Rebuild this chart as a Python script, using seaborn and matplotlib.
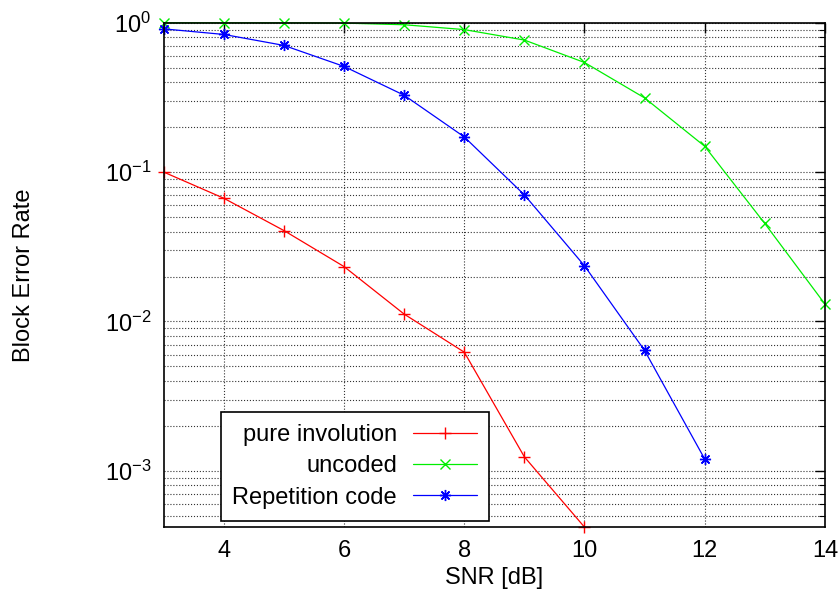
import numpy as np
import pandas as pd
import matplotlib
matplotlib.use("Agg")
import matplotlib.pyplot as plt
import seaborn as sns
from matplotlib.ticker import LogLocator, NullFormatter

# values
snr_inv = [3, 4, 5, 6, 7, 8, 9, 10]
bler_inv = [0.1, 0.0668, 0.0406, 0.0233, 0.0112, 0.00623, 0.00124, 0.00042]

snr_unc = [3, 4, 5, 6, 7, 8, 9, 10, 11, 12, 13, 14]
bler_unc = [1.0, 1.0, 1.0, 0.995, 0.97, 0.90, 0.766, 0.542, 0.314, 0.149, 0.0453, 0.0131]

snr_rep = [3, 4, 5, 6, 7, 8, 9, 10, 11, 12]
bler_rep = [0.91, 0.835, 0.705, 0.51, 0.327, 0.172, 0.0704, 0.0236, 0.0064, 0.0012]

sns.set_style("white")
plt.rcParams['font.family'] = ['Liberation Sans', 'DejaVu Sans']
plt.rcParams['text.color'] = 'black'
plt.rcParams['axes.labelcolor'] = 'black'
fs = 17

fig = plt.figure(figsize=(8.4, 5.99), dpi=100)
ax = fig.add_axes([0.195, 0.120, 0.787, 0.842])

asterisk = (8, 2, 0)
series = [
    (snr_inv, bler_inv, "#ff0000", "+", 9, "pure involution"),
    (snr_unc, bler_unc, "#00ee00", "x", 7, "uncoded"),
    (snr_rep, bler_rep, "#0000ff", asterisk, 8, "Repetition code"),
]
for xs, ys, col, mk, ms, lab in series:
    sns.lineplot(x=xs, y=ys, ax=ax, color=col, lw=0.9, marker=mk, markersize=ms,
                 markeredgewidth=1.0, markeredgecolor=col, markerfacecolor=col,
                 label=lab, clip_on=False)

ax.set_yscale("log")
ax.set_xlim(3, 14)
ax.set_ylim(4.2e-4, 1.0)
ax.set_xticks([4, 6, 8, 10, 12, 14])
ax.yaxis.set_major_locator(LogLocator(base=10))
ax.yaxis.set_minor_locator(LogLocator(base=10, subs=np.arange(2, 10)))
ax.yaxis.set_minor_formatter(NullFormatter())

ax.tick_params(which="both", direction="in", top=True, right=True, labelsize=fs, colors="black")
ax.tick_params(which="major", length=7, width=1, pad=9)
ax.tick_params(which="minor", length=4, width=0.8)

ax.grid(True, which="major", axis="both", color="#333333", linestyle=":", linewidth=0.8)
ax.grid(True, which="minor", axis="y", color="#333333", linestyle=":", linewidth=0.8)
for s in ax.spines.values():
    s.set_color("black")
    s.set_linewidth(1.2)

ax.set_xlabel("SNR [dB]", fontsize=fs, labelpad=4)
ax.set_ylabel("Block Error Rate", fontsize=fs, labelpad=50)

# labels end up right-aligned next to the handles with markerfirst=False
leg = ax.legend(loc="lower right", bbox_to_anchor=(0.492, 0.013), markerfirst=False,
                fancybox=False, edgecolor="black", framealpha=1, fontsize=fs,
                handlelength=2.7, borderpad=0.5, labelspacing=0.4, handletextpad=0.7,
                borderaxespad=0)
leg.get_frame().set_linewidth(1.2)
for t in leg.get_texts():
    t.set_color("black")

fig.savefig("out.png", dpi=100)
